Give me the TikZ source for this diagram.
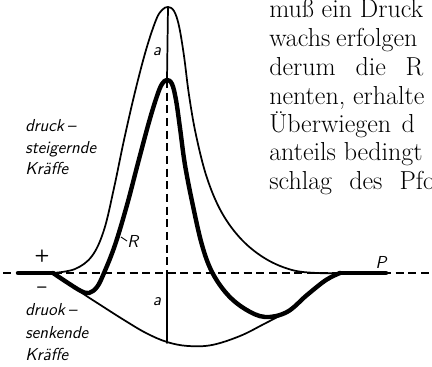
\documentclass[tikz,border=0pt]{standalone}
\begin{document}
\begin{tikzpicture}[x=0.75pt,y=-0.75pt,
  thinline/.style={line width=1.3pt,line join=round,line cap=round},
  thickline/.style={line width=3.3pt,line join=round,line cap=round},
  axis/.style={line width=1.2pt,dash pattern=on 6pt off 3.5pt},
  lbl/.style={font=\sffamily\itshape\fontsize{13}{15}\selectfont,inner sep=0pt},
  sym/.style={font=\sffamily\bfseries\fontsize{13}{14}\selectfont,inner sep=0pt},
  body/.style={font=\fontsize{19.5}{22}\selectfont,inner sep=0pt,anchor=base west}]
\useasboundingbox (0,0) rectangle (432,367);
% body text (cut at the right edge)
\begin{scope}
\clip (0,0) rectangle (432,367);
\node[body] (t1) at (269,18) {muß ein Druck};
\node[body] (t2) at (269,47) {wachs\hspace{-1.5pt} erfolgen};
\node[body] (t3) at (269,76) {derum\hspace{9pt} die\hspace{9pt} R};
\node[body] (t4) at (269,105) {nenten, erhalte};
\node[body] (t5) at (269,133) {Überwiegen\hspace{2pt} d};
\node[body] (t6) at (269,161) {anteils bedingt};
\node[body] (t7) at (269,190) {schlag\hspace{7pt} des\hspace{7pt} Pfo};
\end{scope}
% key points
\coordinate (L0) at (18,273);
\coordinate (L1) at (53,273);
\coordinate (Ptop) at (168,7);
\coordinate (Rtop) at (167,80);
\coordinate (Axis) at (167,273);
\coordinate (Bot) at (167,343);
\coordinate (R1) at (340,273);
\coordinate (R0) at (386,273);
% base line
\draw[axis] (3,273) -- (432,273);
% vertical lines
\draw[thinline] (Ptop) -- (Rtop);
\draw[axis] (Rtop) -- (Axis);
\draw[thinline] (Axis) -- (Bot);
% outer thin curve
\draw[thinline] plot[smooth,tension=0.6] coordinates {
 (53,273) (75,269) (92,256) (104,230) (114,188) (124,140) (135,92) (146,50)
 (156,20) (162,10) (168,7) (174,11) (179,26) (184,56) (189,95) (196,135)
 (207,178) (222,213) (242,240) (266,259) (292,270) (317,273) (340,273)};
% lower thin curve
\draw[thinline] plot[smooth,tension=0.6] coordinates {
 (53,273) (67,282) (82,293) (102,306) (124,320) (146,333) (167,342) (188,346)
 (212,345) (240,336) (264,324) (287,312)};
% resultant R
\draw[thickline] (L0) -- (L1);
\draw[thickline] (R1) -- (R0);
\draw[thickline] plot[smooth,tension=0.6] coordinates {
 (53,273) (68,283) (81,291) (89,293) (97,287) (104,273) (115,245) (127,205)
 (138,163) (149,122) (157,96) (162,84) (167,80) (172,84) (176,100)
 (180,128) (185,165) (193,206) (202,245) (212,272) (227,294) (245,309)
 (265,317) (287,312) (307,295) (326,280) (340,273)};
% labels
\node[lbl] (a1) at (157,52) {a};
\node[lbl] (a2) at (157,302) {a};
\node[lbl,anchor=west] (R) at (127,241) {R};
\draw[line width=0.7pt] (121,237) -- (R.west);
\node[lbl] (P) at (381,262) {P};
\node[sym] (plus) at (42,256) {+};
\node[sym] (minus) at (42,290) {--};
\node[lbl,anchor=base west] (u1) at (25,132) {druck\,--};
\node[lbl,anchor=base west] (u2) at (25,154) {steigernde};
\node[lbl,anchor=base west] (u3) at (25,175) {Kräffe};
\node[lbl,anchor=base west] (d1) at (25,315) {druok\,--};
\node[lbl,anchor=base west] (d2) at (25,338) {senkende};
\node[lbl,anchor=base west] (d3) at (25,360) {Kräffe};
\end{tikzpicture}
\end{document}
